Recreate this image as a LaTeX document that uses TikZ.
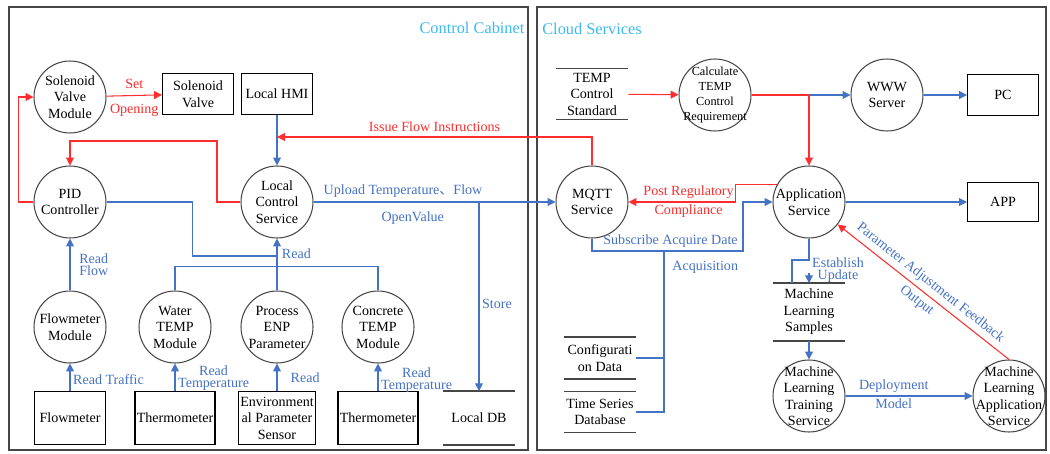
\documentclass[tikz,border=0pt]{standalone}
\usepackage{fontspec}
\setmainfont{Liberation Serif}
\newfontfamily\cjk{Noto Sans CJK SC}
\usepackage{xcolor}
\usepackage{tikz}
\usetikzlibrary{arrows.meta, positioning}
\definecolor{ccRed}{RGB}{255, 45, 45}
\definecolor{ccBlue}{RGB}{ 68,114,196}
\definecolor{ccSky}{RGB}{ 60,185,240}
\definecolor{ccGray}{RGB}{ 70, 70, 70}

\begin{document}
\begin{tikzpicture}[
    x=0.02cm, y=-0.02cm,
    >={Triangle[length=4.5pt,width=4.5pt]},
    txt/.style={font=\fontsize{8}{9.4}\selectfont, align=center},
    proc/.style={txt, circle, draw=ccGray, line width=0.6pt, minimum size=1.44cm, inner sep=-6pt},
    dev/.style={txt, rectangle, draw=black, line width=0.6pt, minimum width=1.42cm, minimum height=0.82cm, inner sep=1pt},
    store/.style={txt, minimum width=1.44cm, inner sep=0pt},
    bl/.style={draw=ccBlue, line width=0.6pt},
    rd/.style={draw=ccRed, line width=0.6pt},
    bltx/.style={font=\fontsize{8}{6.8}\selectfont, text=ccBlue, align=center, inner sep=1.5pt},
    rdtx/.style={bltx, text=ccRed},
    frame/.style={draw=ccGray, line width=0.9pt},
    title/.style={font=\fontsize{9.3}{11}\selectfont, text=ccSky}
  ]
  \useasboundingbox (0,0) rectangle (1050,453);

  % two areas
  \draw[frame] (9,7) rectangle (528,450);
  \draw[frame] (537,7) rectangle (1046,450);
  \node[title] (cctitle) at (472,28) {Control Cabinet};
  \node[title] (cstitle) at (592,29) {Cloud Services};

  % control cabinet
  \node[proc] (svm) at (70,97) {Solenoid\\Valve\\Module};
  \node[dev] (sv) at (198,94) {Solenoid\\Valve};
  \node[dev] (hmi) at (277,94) {Local HMI};
  \node[proc] (pid) at (70,202) {PID\\Controller};
  \node[proc] (lcs) at (277,202) {Local\\Control\\Service};
  \node[proc] (fmm) at (70,327) {Flowmeter\\Module};
  \node[proc] (wtm) at (175,327) {Water\\TEMP\\Module};
  \node[proc] (enp) at (277,327) {Process\\ENP\\Parameter};
  \node[proc] (ctm) at (378,327) {Concrete\\TEMP\\Module};
  \node[dev, minimum height=1.06cm] (fm) at (70,418) {Flowmeter};
  \node[dev, minimum width=1.58cm, minimum height=1.06cm] (th1) at (175,418) {Thermometer};
  \node[dev, minimum width=1.54cm, minimum height=1.06cm] (env) at (277,418) {Environment\\al Parameter\\Sensor};
  \node[dev, minimum width=1.58cm, minimum height=1.06cm] (th2) at (378,418) {Thermometer};
  \node[store, minimum height=1.06cm] (ldb) at (479,418) {Local DB};

  % cloud services
  \node[store, minimum height=1.0cm] (std) at (592,94) {TEMP\\Control\\Standard};
  \node[proc, font=\fontsize{7}{8.7}\selectfont] (calc) at (715,95) {Calculate\\TEMP\\Control\\Requirement};
  \node[proc] (www) at (887,95) {WWW\\Server};
  \node[dev] (pc) at (1003,95) {PC};
  \node[proc] (mqtt) at (592,202) {MQTT\\Service};
  \node[proc] (app) at (809,202) {Application\\Service};
  \node[dev, minimum height=0.78cm] (apk) at (1003,202) {APP};
  \node[store, minimum height=0.82cm] (cfg) at (600,358) {Configurati\\on Data};
  \node[store, minimum height=0.8cm] (tsdb) at (600,412) {Time Series\\Database};
  \node[store, minimum height=1.14cm] (mls) at (809,312) {Machine\\Learning\\Samples};
  \node[proc] (mlt) at (809,396) {Machine\\Learning\\Training\\Service};
  \node[proc] (mla) at (1009,396) {Machine\\Learning\\Application\\Service};
  \node[bltx] (est) at (838,270) {Establish\\Update};

  \foreach \s in {std,cfg,tsdb,mls,ldb} {
    \draw[ccGray, line width=0.8pt] (\s.north west) -- (\s.north east) (\s.south west) -- (\s.south east);
  }

  % cabinet connectors
  \draw[rd,->] (svm) -- (sv) node[rdtx, midway, above=2pt]{Set} node[rdtx, midway, below=3pt]{Opening};
  \draw[bl,->] (hmi) -- (lcs);
  \draw[rd,->] (pid.west) -- ++(-15,0) |- (svm.west);
  \draw[rd,->] (lcs.west) -| (217,141) -| (pid.north);
  \draw[rd,->] (mqtt.north) |- (lcs.north |- 0,137) node[rdtx, pos=0.75, above=1pt]{Issue Flow Instructions};
  \draw[bl,->] (lcs) -- (mqtt) node[bltx, pos=0.37, above=1pt]{Upload Temperature{\cjk 、}Flow}
                               node[bltx, pos=0.41, below=4pt]{OpenValue};
  \draw[bl,->] (ldb.north |- lcs) -- (ldb.north) node[bltx, pos=0.54, right]{Store};
  \draw[bl] (pid.east) -- ++(86,0) |- (lcs.south |- 0,256);
  \draw[bl] (wtm.north) -- ++(0,-24) -| (ctm.north);
  \draw[bl,->] (enp) -- (lcs) node[bltx, pos=0.7, right=1pt]{Read};
  \draw[bl,->] (fmm) -- (pid) node[bltx, midway, right=3.5pt]{Read\\Flow};
  \draw[bl,->] (fm) -- (fmm) node[bltx, pos=0.41, right]{Read Traffic};
  \draw[bl,->] (th1) -- (wtm) node[bltx, pos=0.48, right]{Read\\Temperature};
  \draw[bl,->] (env) -- (enp) node[bltx, pos=0.5, right=6pt]{Read};
  \draw[bl,->] (th2) -- (ctm) node[bltx, pos=0.41, right]{Read\\Temperature};

  % cloud connectors
  \draw[rd,->] (std) -- (calc);
  \draw[rd,->] (calc.east) -| (app.north);
  \draw[bl,->] (app.north |- calc.east) -- (www);
  \draw[bl,->] (www) -- (pc);
  \draw[bl,->] (app) -- (apk);
  \draw[rd,->] (app.152) -- ++(-41,0) |- (mqtt.east) node[rdtx, pos=0.72, above]{Post Regulatory}
                                                   node[rdtx, pos=0.72, below]{Compliance};
  \draw[bl,->] (mqtt.south) |- (743,251) node[bltx, pos=0.76, above]{Subscribe Acquire Date} |- (app.west);
  \coordinate (acq) at (664,251);
  \draw[bl] (acq) |- (tsdb.east) node[bltx, pos=0.05, right=3pt]{Acquisition};
  \draw[bl] (acq |- cfg.east) -- (cfg.east);
  \draw[bl] (app.south) |- (792,260) -- (mls.north -| 792,0);
  \draw[bl,->] (mls.north) ++(0,-10) -- (mls.north);
  \draw[bl,->] (mls) -- (mlt);
  \draw[bl,->] (mlt) -- (mla) node[bltx, pos=0.38, above]{Deployment} node[bltx, pos=0.38, below]{Model};
  \draw[rd,->] (mla.north) -- (app.-38) node[bltx, pos=0.5, sloped, above=1pt]{Parameter Adjustment Feedback}
                                       node[bltx, pos=0.5, sloped, below=1pt]{Output};
\end{tikzpicture}
\end{document}
